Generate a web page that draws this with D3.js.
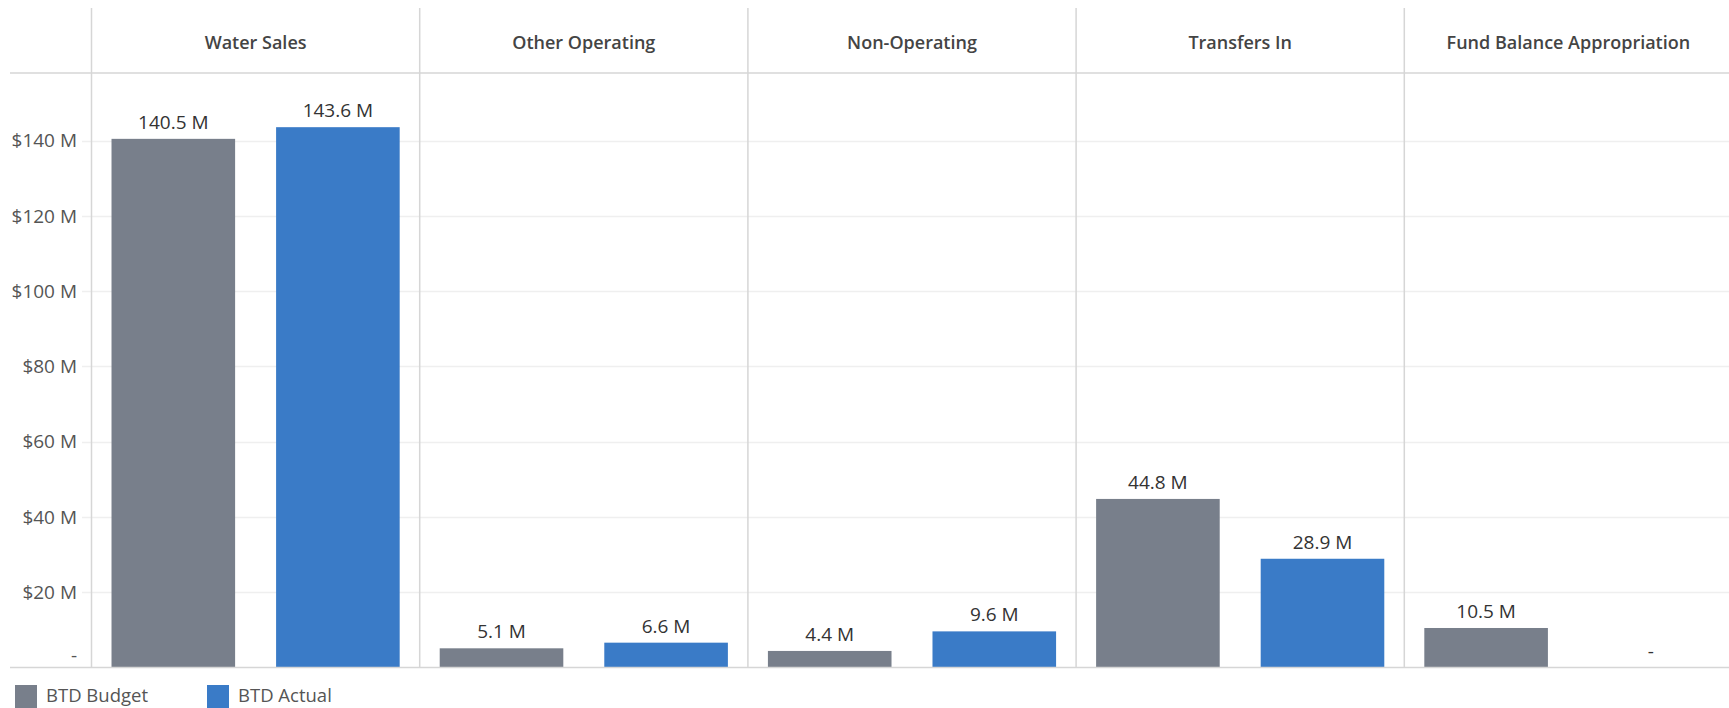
<!DOCTYPE html>
<html>
<head>
<meta charset="utf-8">
<script src="https://cdn.jsdelivr.net/npm/d3@7"></script>
<style>
  html, body { margin: 0; padding: 0; background: #fff; }
  svg { display: block; }
  text { font-family: "Open Sans", "Lato", sans-serif; }
</style>
</head>
<body>
<svg id="chart" width="1729" height="708"></svg>
<script>
// ---- data ----
const categories = ["Water Sales", "Other Operating", "Non-Operating", "Transfers In", "Fund Balance Appropriation"];
const series = ["BTD Budget", "BTD Actual"];
const budgetValues = [140.5, 5.1, 4.4, 44.8, 10.5];
const actualValues = [143.6, 6.6, 9.6, 28.9, 0];
const yTicks = [0, 20, 40, 60, 80, 100, 120, 140];
const yTickLabels = ["-", "$20 M", "$40 M", "$60 M", "$80 M", "$100 M", "$120 M", "$140 M"];
const colors = ["#787f8b", "#3a7bc7"];

// ---- layout ----
const W = 1729, H = 708;
const plotLeft = 91.5, panelW = 328.2;
const headerTop = 8, headerBottom = 73, baseY = 667.5;
const lineLeft = 10;

const svg = d3.select("#chart");

const x0 = d3.scaleBand().domain(categories)
  .range([plotLeft, plotLeft + panelW * categories.length]).padding(0);
const x1 = d3.scaleBand().domain(series)
  .range([0, panelW]).paddingInner(0.249).paddingOuter(0.1216);
const y = d3.scaleLinear().domain([0, 158]).range([baseY, headerBottom]);

// gridlines
svg.append("g").selectAll("line").data(yTicks.filter(d => d > 0)).join("line")
  .attr("x1", 82).attr("x2", W)
  .attr("y1", d => Math.round(y(d)) + 0.5).attr("y2", d => Math.round(y(d)) + 0.5)
  .attr("stroke", "#efefef").attr("stroke-width", 1.5);

// header horizontal line
svg.append("line").attr("x1", lineLeft).attr("x2", W)
  .attr("y1", headerBottom).attr("y2", headerBottom)
  .attr("stroke", "#d6d6d6").attr("stroke-width", 1.5);

// panel dividers
const dividers = categories.map(c => x0(c));
svg.append("g").selectAll("line").data(dividers).join("line")
  .attr("x1", d => d).attr("x2", d => d)
  .attr("y1", headerTop).attr("y2", baseY)
  .attr("stroke", "#d6d6d6").attr("stroke-width", 1.5);

// headers
svg.append("g").selectAll("text").data(categories).join("text")
  .attr("x", d => x0(d) + panelW / 2)
  .attr("y", 48.5)
  .attr("text-anchor", "middle")
  .attr("font-size", 18)
  .attr("font-weight", 600)
  .attr("fill", "#444")
  .text(d => d);

// y axis labels
svg.append("g").selectAll("text").data(yTicks).join("text")
  .attr("x", 77)
  .attr("y", (d, i) => d === 0 ? y(d) - 12 : y(d))
  .attr("dy", "0.35em")
  .attr("text-anchor", "end")
  .attr("font-size", 19)
  .attr("fill", "#555")
  .text((d, i) => yTickLabels[i]);

// bars
const rows = [];
categories.forEach((c, i) => {
  rows.push({ cat: c, s: series[0], v: budgetValues[i], color: colors[0] });
  rows.push({ cat: c, s: series[1], v: actualValues[i], color: colors[1] });
});

svg.append("g").selectAll("rect").data(rows.filter(r => r.v > 0)).join("rect")
  .attr("x", r => x0(r.cat) + x1(r.s))
  .attr("width", x1.bandwidth())
  .attr("y", r => y(r.v))
  .attr("height", r => baseY - y(r.v))
  .attr("fill", r => r.color);

// value labels
svg.append("g").selectAll("text").data(rows).join("text")
  .attr("x", r => x0(r.cat) + x1(r.s) + x1.bandwidth() / 2)
  .attr("y", r => y(r.v) - 10)
  .attr("text-anchor", "middle")
  .attr("font-size", 19)
  .attr("fill", "#333")
  .text(r => r.v > 0 ? d3.format(".1f")(r.v) + " M" : "-");

// baseline
svg.append("line").attr("x1", lineLeft).attr("x2", W)
  .attr("y1", baseY).attr("y2", baseY)
  .attr("stroke", "#d6d6d6").attr("stroke-width", 1.5);

// legend
const legendX = [15, 207];
const lg = svg.append("g").selectAll("g").data(series).join("g")
  .attr("transform", (d, i) => `translate(${legendX[i]},685)`);
lg.append("rect").attr("width", 22).attr("height", 23)
  .attr("fill", (d, i) => colors[i]);
lg.append("text").attr("x", 31).attr("y", 17)
  .attr("font-size", 18.5).attr("fill", "#555")
  .text(d => d);
</script>
</body>
</html>
